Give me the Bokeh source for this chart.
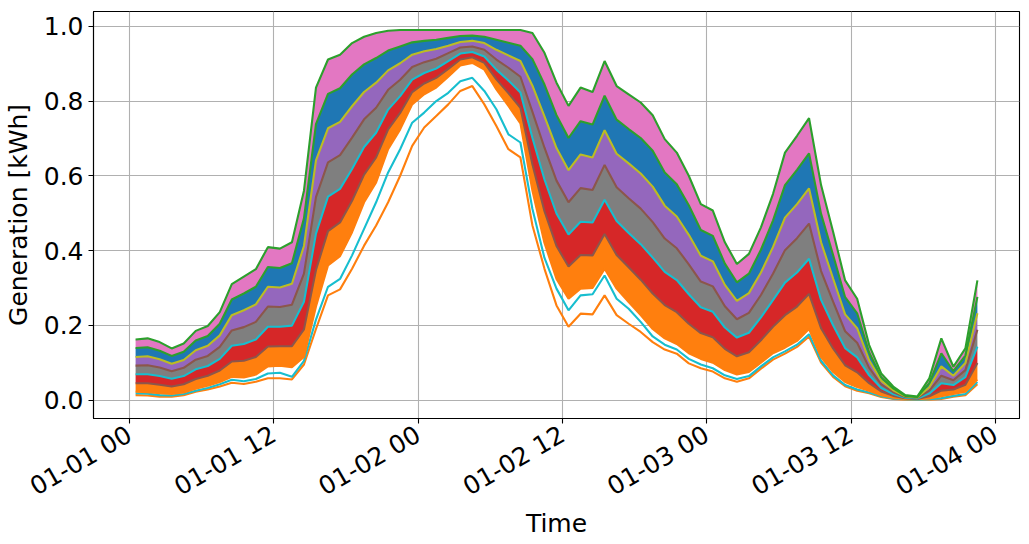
import math
import pandas as pd
from bokeh.plotting import figure
from bokeh.models import Range1d, FixedTicker, DatetimeTickFormatter, PrintfTickFormatter, ColumnDataSource
from bokeh.embed import file_html
from bokeh.resources import INLINE

FONT = "DejaVu Sans"

# hourly time stamps (half past each hour), 01-01 00:30 ... 01-03 22:30
time = pd.date_range("2021-01-01 00:30", periods=71, freq="h")

# lowest line (orange)
gen_bottom = [0.013, 0.012, 0.009, 0.009, 0.013, 0.022, 0.028, 0.036, 0.046, 0.043,
              0.049, 0.058, 0.058, 0.055, 0.095, 0.190, 0.280, 0.296, 0.351, 0.413,
              0.467, 0.529, 0.600, 0.680, 0.729, 0.760, 0.791, 0.827, 0.840, 0.791,
              0.733, 0.671, 0.649, 0.467, 0.351, 0.253, 0.196, 0.231, 0.229, 0.280,
              0.227, 0.204, 0.182, 0.155, 0.135, 0.124, 0.098, 0.085, 0.076, 0.058,
              0.049, 0.058, 0.084, 0.108, 0.124, 0.142, 0.170, 0.100, 0.062, 0.037,
              0.025, 0.018, 0.008, 0.003, 0.001, 0.001, 0.001, 0.003, 0.009, 0.013,
              0.042]
# second lowest line (cyan)
gen_cyan = [0.018, 0.017, 0.013, 0.012, 0.016, 0.025, 0.032, 0.042, 0.054, 0.050,
            0.056, 0.071, 0.073, 0.062, 0.105, 0.215, 0.303, 0.324, 0.387, 0.458,
            0.529, 0.609, 0.671, 0.742, 0.769, 0.800, 0.822, 0.853, 0.862, 0.827,
            0.778, 0.711, 0.689, 0.511, 0.380, 0.298, 0.240, 0.280, 0.283, 0.333,
            0.271, 0.244, 0.209, 0.170, 0.148, 0.135, 0.110, 0.095, 0.085, 0.066,
            0.056, 0.064, 0.090, 0.114, 0.130, 0.148, 0.176, 0.105, 0.066, 0.040,
            0.028, 0.020, 0.010, 0.004, 0.002, 0.001, 0.002, 0.005, 0.011, 0.016,
            0.048]
# lower edge of the dense bundle
gen_low = [0.022, 0.021, 0.018, 0.016, 0.020, 0.030, 0.038, 0.048, 0.062, 0.060,
           0.068, 0.090, 0.092, 0.088, 0.115, 0.250, 0.360, 0.385, 0.449, 0.529,
           0.582, 0.671, 0.724, 0.791, 0.818, 0.836, 0.865, 0.895, 0.902, 0.884,
           0.831, 0.787, 0.740, 0.560, 0.420, 0.324, 0.271, 0.298, 0.300, 0.351,
           0.298, 0.262, 0.227, 0.190, 0.165, 0.150, 0.125, 0.110, 0.100, 0.080,
           0.068, 0.075, 0.100, 0.125, 0.140, 0.158, 0.190, 0.115, 0.075, 0.048,
           0.035, 0.025, 0.013, 0.006, 0.003, 0.002, 0.004, 0.010, 0.016, 0.022,
           0.055]
gen_q1 = [0.045, 0.045, 0.041, 0.036, 0.042, 0.056, 0.065, 0.079, 0.103, 0.105,
          0.115, 0.143, 0.144, 0.144, 0.189, 0.348, 0.452, 0.475, 0.533, 0.603,
          0.649, 0.724, 0.768, 0.824, 0.847, 0.862, 0.886, 0.911, 0.917, 0.902,
          0.858, 0.821, 0.782, 0.630, 0.505, 0.412, 0.357, 0.388, 0.387, 0.444,
          0.388, 0.355, 0.322, 0.285, 0.254, 0.235, 0.204, 0.179, 0.168, 0.137,
          0.117, 0.128, 0.160, 0.196, 0.227, 0.250, 0.284, 0.192, 0.138, 0.093,
          0.074, 0.045, 0.023, 0.011, 0.005, 0.003, 0.010, 0.025, 0.028, 0.041,
          0.099]
gen_q2 = [0.069, 0.069, 0.064, 0.057, 0.064, 0.082, 0.091, 0.110, 0.145, 0.150,
          0.162, 0.196, 0.196, 0.199, 0.263, 0.445, 0.544, 0.565, 0.618, 0.677,
          0.715, 0.777, 0.813, 0.857, 0.875, 0.887, 0.907, 0.927, 0.931, 0.919,
          0.884, 0.855, 0.823, 0.701, 0.590, 0.499, 0.443, 0.477, 0.475, 0.536,
          0.479, 0.447, 0.417, 0.381, 0.343, 0.321, 0.283, 0.248, 0.236, 0.194,
          0.167, 0.180, 0.221, 0.267, 0.314, 0.341, 0.378, 0.268, 0.200, 0.139,
          0.114, 0.066, 0.032, 0.016, 0.006, 0.004, 0.017, 0.045, 0.040, 0.061,
          0.143]
gen_q3 = [0.092, 0.093, 0.087, 0.077, 0.086, 0.108, 0.118, 0.142, 0.186, 0.195,
          0.209, 0.250, 0.249, 0.255, 0.338, 0.543, 0.636, 0.655, 0.702, 0.751,
          0.782, 0.830, 0.857, 0.891, 0.904, 0.913, 0.928, 0.943, 0.946, 0.937,
          0.911, 0.889, 0.865, 0.771, 0.675, 0.587, 0.529, 0.567, 0.562, 0.629,
          0.569, 0.540, 0.512, 0.476, 0.432, 0.406, 0.363, 0.317, 0.304, 0.251,
          0.216, 0.233, 0.281, 0.338, 0.401, 0.433, 0.472, 0.345, 0.263, 0.184,
          0.153, 0.086, 0.042, 0.021, 0.008, 0.006, 0.025, 0.065, 0.053, 0.080,
          0.188]
gen_q4 = [0.115, 0.117, 0.109, 0.097, 0.107, 0.133, 0.145, 0.173, 0.227, 0.240,
          0.256, 0.303, 0.301, 0.311, 0.412, 0.641, 0.727, 0.744, 0.786, 0.824,
          0.849, 0.882, 0.901, 0.924, 0.933, 0.939, 0.948, 0.958, 0.961, 0.955,
          0.937, 0.922, 0.907, 0.841, 0.759, 0.674, 0.615, 0.657, 0.649, 0.722,
          0.659, 0.633, 0.606, 0.571, 0.520, 0.491, 0.442, 0.386, 0.371, 0.308,
          0.265, 0.286, 0.341, 0.409, 0.488, 0.524, 0.566, 0.422, 0.325, 0.229,
          0.192, 0.106, 0.052, 0.026, 0.010, 0.007, 0.034, 0.090, 0.065, 0.099,
          0.232]
gen_q5 = [0.139, 0.141, 0.132, 0.118, 0.129, 0.159, 0.171, 0.204, 0.269, 0.285,
          0.303, 0.356, 0.353, 0.366, 0.486, 0.738, 0.819, 0.834, 0.871, 0.898,
          0.915, 0.935, 0.946, 0.957, 0.961, 0.964, 0.969, 0.974, 0.975, 0.972,
          0.964, 0.956, 0.948, 0.912, 0.844, 0.762, 0.701, 0.746, 0.737, 0.814,
          0.750, 0.725, 0.701, 0.667, 0.609, 0.577, 0.521, 0.455, 0.439, 0.365,
          0.315, 0.338, 0.402, 0.480, 0.575, 0.616, 0.660, 0.498, 0.388, 0.275,
          0.232, 0.127, 0.061, 0.031, 0.011, 0.008, 0.045, 0.125, 0.077, 0.119,
          0.276]
# highest line
gen_top = [0.162, 0.165, 0.155, 0.138, 0.151, 0.185, 0.198, 0.235, 0.310, 0.330,
           0.350, 0.409, 0.405, 0.422, 0.560, 0.836, 0.911, 0.924, 0.955, 0.972,
           0.982, 0.988, 0.990, 0.990, 0.990, 0.990, 0.990, 0.990, 0.990, 0.990,
           0.990, 0.990, 0.990, 0.982, 0.929, 0.849, 0.787, 0.836, 0.824, 0.907,
           0.840, 0.818, 0.796, 0.762, 0.698, 0.662, 0.600, 0.524, 0.507, 0.422,
           0.364, 0.391, 0.462, 0.551, 0.662, 0.707, 0.754, 0.575, 0.450, 0.320,
           0.271, 0.147, 0.071, 0.036, 0.013, 0.009, 0.058, 0.165, 0.089, 0.138,
           0.320]

y_ticks = [0.0, 0.2, 0.4, 0.6, 0.8, 1.0]
x_tick_hours = [0, 12, 24, 36, 48, 60, 72]

src = ColumnDataSource(dict(t=time, b=gen_bottom, c=gen_cyan, lo=gen_low, q1=gen_q1, q2=gen_q2,
                            q3=gen_q3, q4=gen_q4, q5=gen_q5, top=gen_top))

epoch = pd.Timestamp("1970-01-01")
t0 = pd.Timestamp("2021-01-01 00:00")


def ms(t):
    return (t - epoch) / pd.Timedelta(milliseconds=1)


p = figure(width=1029, height=544, x_axis_type="datetime", output_backend="svg", toolbar_location=None,
           x_range=Range1d(ms(t0 - pd.Timedelta(hours=3)), ms(t0 + pd.Timedelta(hours=74))),
           y_range=Range1d(-0.0495, 1.0395),
           min_border_left=89, min_border_right=10, min_border_top=11, min_border_bottom=126)

p.background_fill_color = "white"
p.border_fill_color = "white"
p.outline_line_color = "black"
p.outline_line_width = 1.1
p.outline_line_alpha = 1.0

# bundle fills
bands = [("lo", "q1", "#ff7f0e"), ("q1", "q2", "#d62728"), ("q2", "q3", "#7f7f7f"),
         ("q3", "q4", "#9467bd"), ("q4", "q5", "#1f77b4"), ("q5", "top", "#e377c2")]
for y1, y2, col in bands:
    p.varea(x="t", y1=y1, y2=y2, source=src, fill_color=col, fill_alpha=1.0)

lines = [("b", "#ff7f0e"), ("c", "#17becf"), ("lo", "#ff7f0e"), ("q1", "#8c564b"),
         ("q2", "#17becf"), ("q3", "#8c564b"), ("q4", "#bcbd22"), ("q5", "#2ca02c"), ("top", "#2ca02c")]
for col_name, col in lines:
    p.line(x="t", y=col_name, source=src, line_color=col, line_width=2.1)

p.xaxis.ticker = FixedTicker(ticks=[ms(t0 + pd.Timedelta(hours=h)) for h in x_tick_hours])
fmt = "%m-%d %H"
p.xaxis.formatter = DatetimeTickFormatter(microseconds=fmt, milliseconds=fmt, seconds=fmt, minsec=fmt,
                                          minutes=fmt, hourmin=fmt, hours=fmt, days=fmt, months=fmt,
                                          years=fmt)
p.xaxis.major_label_orientation = math.pi / 6
p.yaxis.ticker = FixedTicker(ticks=y_ticks)
p.yaxis.formatter = PrintfTickFormatter(format="%.1f")

p.xaxis.axis_label = "Time"
p.yaxis.axis_label = "Generation [kWh]"

for ax in (p.xaxis, p.yaxis):
    ax.axis_label_text_font = FONT
    ax.axis_label_text_font_size = "25px"
    ax.axis_label_text_font_style = "normal"
    ax.axis_label_text_color = "black"
    ax.major_label_text_font = FONT
    ax.major_label_text_font_size = "25px"
    ax.major_label_text_color = "black"
    ax.major_tick_out = 5
    ax.major_tick_in = 0
    ax.major_tick_line_width = 1.1
    ax.major_tick_line_color = "black"
    ax.minor_tick_out = 0
    ax.minor_tick_in = 0
    ax.axis_line_color = "black"
    ax.axis_line_width = 1.1

p.xaxis.major_label_standoff = 9
p.xaxis.axis_label_standoff = -8
p.yaxis.major_label_standoff = 5
p.yaxis.axis_label_standoff = 8

for g in (p.xgrid, p.ygrid):
    g.grid_line_color = "#b0b0b0"
    g.grid_line_width = 1.1

open("out.html", "w").write(file_html(p, INLINE))
